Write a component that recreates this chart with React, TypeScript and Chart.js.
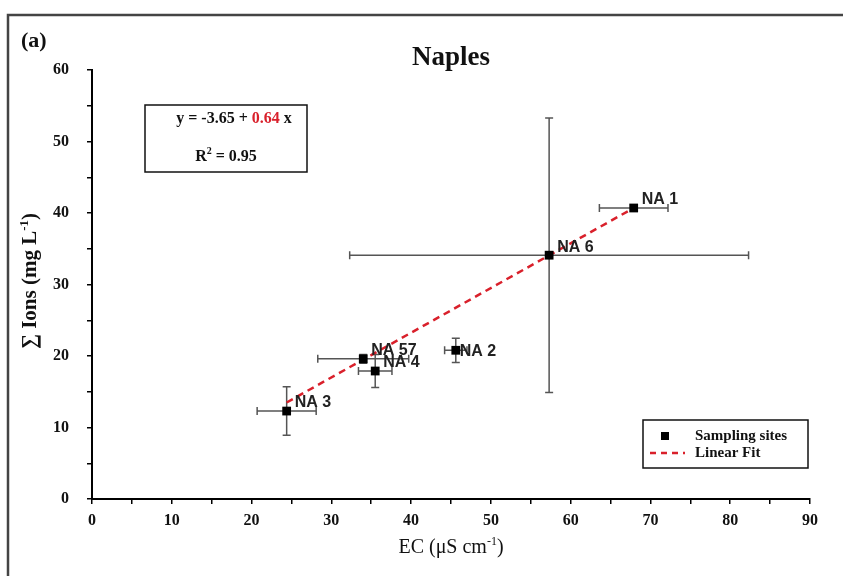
import React, { useEffect, useRef } from 'react';
import { Chart, registerables } from 'chart.js';

Chart.register(...registerables);

// ---- data ----
const sites = ['NA 1', 'NA 6', 'NA 2', 'NA 57', 'NA 4', 'NA 3'];
const ec = [67.9, 57.3, 45.6, 34.0, 35.5, 24.4];
const ions = [40.7, 34.1, 20.8, 19.6, 17.9, 12.3];
const ecErr = [4.3, 25.0, 1.4, 5.7, 2.1, 3.7];
const ionsErr = [0, 19.2, 1.7, 0.6, 2.3, 3.4];
const fitX = [24.4, 67.9];
const fitY = [13.5, 40.7];
const xRange = [0, 90];
const yRange = [0, 60];
const titleText = 'Naples';
const panelText = '(a)';
const eqIntercept = '-3.65';
const eqSlope = '0.64';
const r2Text = '0.95';
const legendLabels = ['Sampling sites', 'Linear Fit'];

const SERIF = '"Liberation Serif", "DejaVu Serif", serif';
const SANS = '"Liberation Sans", "Open Sans", sans-serif';
const RED = '#d9202b';

type Part = { t: string; sup?: boolean; color?: string };

function richWidth(ctx: CanvasRenderingContext2D, parts: Part[], size: number, weight: string) {
  let w = 0;
  for (const p of parts) {
    ctx.font = `${weight} ${p.sup ? Math.round(size * 0.62) : size}px ${SERIF}`;
    w += ctx.measureText(p.t).width;
  }
  return w;
}

function drawRich(
  ctx: CanvasRenderingContext2D,
  parts: Part[],
  x: number,
  y: number,
  size: number,
  weight: string,
  align: 'center' | 'left' = 'center'
) {
  const w = richWidth(ctx, parts, size, weight);
  let cx = align === 'center' ? x - w / 2 : x;
  ctx.textAlign = 'left';
  ctx.textBaseline = 'middle';
  for (const p of parts) {
    const s = p.sup ? Math.round(size * 0.62) : size;
    ctx.font = `${weight} ${s}px ${SERIF}`;
    ctx.fillStyle = p.color || '#111';
    ctx.fillText(p.t, cx, p.sup ? y - size * 0.32 : y);
    cx += ctx.measureText(p.t).width;
  }
}

const decorPlugin = {
  id: 'decor',
  beforeDatasetsDraw(chart: any) {
    const { ctx, scales } = chart;
    const xs = scales.x;
    const ys = scales.y;
    ctx.save();
    ctx.strokeStyle = '#555';
    ctx.lineWidth = 1.5;
    const cap = 4;
    for (let i = 0; i < ec.length; i++) {
      const px = xs.getPixelForValue(ec[i]);
      const py = ys.getPixelForValue(ions[i]);
      if (ecErr[i] > 0) {
        const x1 = xs.getPixelForValue(ec[i] - ecErr[i]);
        const x2 = xs.getPixelForValue(ec[i] + ecErr[i]);
        ctx.beginPath();
        ctx.moveTo(x1, py);
        ctx.lineTo(x2, py);
        ctx.moveTo(x1, py - cap);
        ctx.lineTo(x1, py + cap);
        ctx.moveTo(x2, py - cap);
        ctx.lineTo(x2, py + cap);
        ctx.stroke();
      }
      if (ionsErr[i] > 0) {
        const y1 = ys.getPixelForValue(ions[i] - ionsErr[i]);
        const y2 = ys.getPixelForValue(ions[i] + ionsErr[i]);
        ctx.beginPath();
        ctx.moveTo(px, y1);
        ctx.lineTo(px, y2);
        ctx.moveTo(px - cap, y1);
        ctx.lineTo(px + cap, y1);
        ctx.moveTo(px - cap, y2);
        ctx.lineTo(px + cap, y2);
        ctx.stroke();
      }
    }
    ctx.restore();
  },
  afterDraw(chart: any) {
    const { ctx, scales, chartArea } = chart;
    const xs = scales.x;
    const ys = scales.y;
    ctx.save();

    // outer frame (top and left)
    ctx.strokeStyle = '#444';
    ctx.lineWidth = 2.5;
    ctx.beginPath();
    ctx.moveTo(8, chart.height);
    ctx.lineTo(8, 15);
    ctx.lineTo(chart.width, 15);
    ctx.stroke();

    // panel letter
    ctx.fillStyle = '#111';
    ctx.font = `bold 22px ${SERIF}`;
    ctx.textAlign = 'left';
    ctx.textBaseline = 'middle';
    ctx.fillText(panelText, 21, 41);

    // title
    ctx.font = `bold 27px ${SERIF}`;
    ctx.textAlign = 'center';
    ctx.fillText(titleText, 451, 58);

    // y axis title
    ctx.save();
    ctx.translate(31, 281);
    ctx.rotate(-Math.PI / 2);
    drawRich(ctx, [{ t: '\u2211 Ions (mg L' }, { t: '-1', sup: true }, { t: ')' }], 0, 0, 21, 'bold');
    ctx.restore();

    // x axis title
    drawRich(ctx, [{ t: 'EC (\u03bcS cm' }, { t: '-1', sup: true }, { t: ')' }], (chartArea.left + chartArea.right) / 2, 548, 20, 'normal');

    // equation box
    ctx.strokeStyle = '#111';
    ctx.lineWidth = 1.5;
    ctx.strokeRect(145, 105, 162, 67);
    drawRich(
      ctx,
      [{ t: `y = ${eqIntercept} + ` }, { t: eqSlope, color: RED }, { t: ' x' }],
      234,
      119,
      16,
      'bold'
    );
    drawRich(ctx, [{ t: 'R' }, { t: '2', sup: true }, { t: ` = ${r2Text}` }], 226, 157, 16, 'bold');

    // point labels
    ctx.font = `bold 16px ${SANS}`;
    ctx.fillStyle = '#222';
    ctx.textAlign = 'left';
    ctx.textBaseline = 'middle';
    for (let i = 0; i < sites.length; i++) {
      const px = xs.getPixelForValue(ec[i]);
      const py = ys.getPixelForValue(ions[i]);
      const dx = sites[i] === 'NA 2' ? 4 : 8;
      const dy = sites[i] === 'NA 2' ? 1 : -8;
      ctx.fillText(sites[i], px + dx, py + dy);
    }

    // legend box
    ctx.strokeStyle = '#111';
    ctx.lineWidth = 1.5;
    ctx.strokeRect(643, 420, 165, 48);
    ctx.fillStyle = '#000';
    ctx.fillRect(661, 432, 8, 8);
    ctx.strokeStyle = RED;
    ctx.lineWidth = 2.5;
    ctx.setLineDash([6, 5]);
    ctx.beginPath();
    ctx.moveTo(650, 453);
    ctx.lineTo(685, 453);
    ctx.stroke();
    ctx.setLineDash([]);
    ctx.fillStyle = '#111';
    ctx.font = `bold 15px ${SERIF}`;
    ctx.textAlign = 'left';
    ctx.textBaseline = 'middle';
    ctx.fillText(legendLabels[0], 695, 436);
    ctx.fillText(legendLabels[1], 695, 453);

    ctx.restore();
  },
};

export default function App() {
  const ref = useRef<HTMLCanvasElement>(null);

  useEffect(() => {
    if (!ref.current) return;
    const tickFont = { family: SERIF, size: 16, weight: 'bold' as const };
    const chart = new Chart(ref.current, {
      type: 'scatter',
      data: {
        datasets: [
          {
            label: legendLabels[0],
            data: ec.map((v, i) => ({ x: v, y: ions[i] })),
            pointStyle: 'rect',
            pointRadius: 6.2,
            pointBackgroundColor: '#000',
            pointBorderColor: '#000',
            pointBorderWidth: 0,
            showLine: false,
          },
          {
            label: legendLabels[1],
            type: 'line',
            data: fitX.map((v, i) => ({ x: v, y: fitY[i] })),
            borderColor: RED,
            borderWidth: 2.5,
            borderDash: [7, 5],
            pointRadius: 0,
            fill: false,
          } as any,
        ],
      },
      options: {
        animation: false,
        responsive: false,
        devicePixelRatio: 1,
        layout: { padding: { top: 70, right: 33, left: 0, bottom: 0 } },
        plugins: {
          legend: { display: false },
          title: { display: false },
          tooltip: { enabled: false },
        },
        scales: {
          x: {
            type: 'linear',
            min: xRange[0],
            max: xRange[1],
            afterFit: (s: any) => {
              s.height = 77;
            },
            ticks: {
              stepSize: 5,
              autoSkip: false,
              maxRotation: 0,
              padding: 7,
              color: '#111',
              font: tickFont,
              callback: (v: any) => (Number(v) % 10 === 0 ? String(v) : ''),
            },
            grid: {
              display: true,
              drawOnChartArea: false,
              drawTicks: true,
              tickLength: 5,
              color: '#000',
              lineWidth: 1.5,
            },
            border: { display: true, color: '#000', width: 2 },
          },
          y: {
            type: 'linear',
            min: yRange[0],
            max: yRange[1],
            afterFit: (s: any) => {
              s.width = 92;
            },
            ticks: {
              stepSize: 5,
              autoSkip: false,
              padding: 18,
              color: '#111',
              font: tickFont,
              callback: (v: any) => (Number(v) % 10 === 0 ? String(v) : ''),
            },
            grid: {
              display: true,
              drawOnChartArea: false,
              drawTicks: true,
              tickLength: 5,
              color: '#000',
              lineWidth: 1.5,
            },
            border: { display: true, color: '#000', width: 2 },
          },
        },
      },
      plugins: [decorPlugin],
    });
    return () => chart.destroy();
  }, []);

  return (
    <div style={{ position: 'fixed', left: 0, top: 0, width: 843, height: 576, background: '#fff' }}>
      <canvas ref={ref} width={843} height={576} style={{ display: 'block' }} />
    </div>
  );
}
